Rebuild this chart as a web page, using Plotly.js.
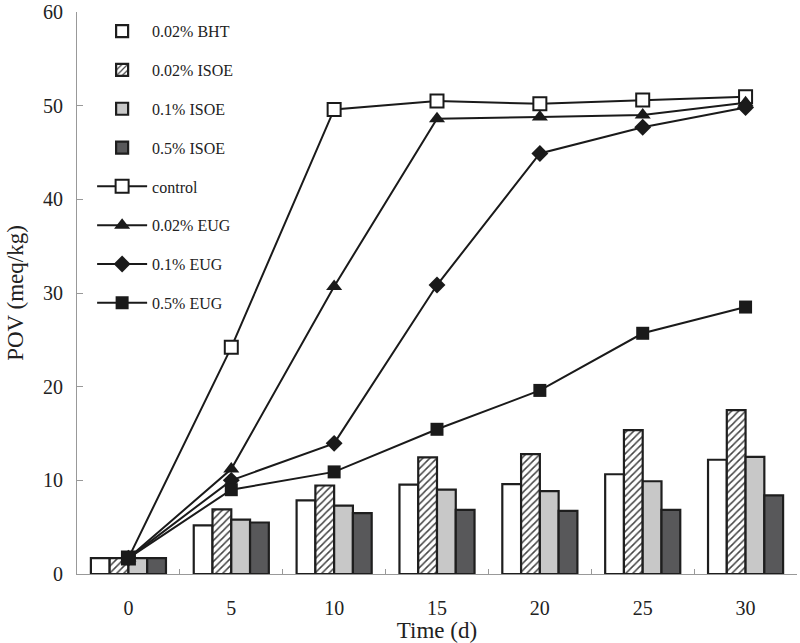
<!DOCTYPE html>
<html>
<head>
<meta charset="utf-8">
<script src="https://cdn.plot.ly/plotly-3.0.1.min.js"></script>
<style>html,body{margin:0;padding:0;background:#fff;}#chart{width:800px;height:643px;}</style>
</head>
<body>
<div id="chart"></div>
<script>
const days = ['0','5','10','15','20','25','30'];

const bht002  = [1.7, 5.2, 7.85, 9.55, 9.6, 10.65, 12.2];
const isoe002 = [1.7, 6.9, 9.45, 12.45, 12.8, 15.35, 17.5];
const isoe01  = [1.7, 5.8, 7.3, 9.0, 8.85, 9.9, 12.5];
const isoe05  = [1.7, 5.5, 6.5, 6.85, 6.75, 6.85, 8.4];

const control = [1.7, 24.2, 49.6, 50.5, 50.2, 50.6, 50.95];
const eug002  = [1.7, 11.2, 30.7, 48.6, 48.8, 49.0, 50.3];
const eug01   = [1.7, 10.0, 13.95, 30.85, 44.9, 47.7, 49.8];
const eug05   = [1.7, 9.0, 10.9, 15.45, 19.6, 25.7, 28.5];

const serif = '"Liberation Serif", "Times New Roman", serif';
const barLine = {color: '#1e1e1e', width: 2.2};

const traces = [
  {type:'bar', name:'0.02% BHT', x: days, y: bht002, marker:{color:'#ffffff', line: barLine}, legendgroup:'a'},
  {type:'bar', name:'0.02% ISOE', x: days, y: isoe002, marker:{color:'#ffffff', line: barLine, pattern:{shape:'/', fgcolor:'#444', bgcolor:'#ffffff', size:5, solidity:0.3}}, legendgroup:'b'},
  {type:'bar', name:'0.1% ISOE', x: days, y: isoe01, marker:{color:'#c8c8c8', line: barLine}, legendgroup:'c'},
  {type:'bar', name:'0.5% ISOE', x: days, y: isoe05, marker:{color:'#58585a', line: barLine}, legendgroup:'d'},
  {type:'scatter', mode:'lines+markers', name:'control', x: days, y: control, line:{color:'#1a1a1a', width:2}, marker:{symbol:'square', size:13, color:'#ffffff', line:{color:'#1a1a1a', width:2}}, legendgroup:'e'},
  {type:'scatter', mode:'lines+markers', name:'0.02% EUG', x: days, y: eug002, line:{color:'#1a1a1a', width:2}, marker:{symbol:'triangle-up', size:14, color:'#1a1a1a'}, legendgroup:'f'},
  {type:'scatter', mode:'lines+markers', name:'0.1% EUG', x: days, y: eug01, line:{color:'#1a1a1a', width:2}, marker:{symbol:'diamond', size:13, color:'#1a1a1a'}, legendgroup:'g'},
  {type:'scatter', mode:'lines+markers', name:'0.5% EUG', x: days, y: eug05, line:{color:'#1a1a1a', width:2}, marker:{symbol:'square', size:13, color:'#1a1a1a'}, legendgroup:'h'}
];

const layout = {
  width: 800, height: 643,
  margin: {l: 77, r: 3, t: 12, b: 69},
  paper_bgcolor: '#ffffff', plot_bgcolor: '#ffffff',
  font: {family: serif, color: '#222', size: 20},
  barmode: 'group', bargap: 0.27, bargroupgap: 0,
  showlegend: true,
  legend: {
    x: 0.021, y: 0.996, xanchor: 'left', yanchor: 'top',
    bgcolor: 'rgba(0,0,0,0)', borderwidth: 0,
    font: {family: serif, size: 16, color: '#222'},
    tracegroupgap: 15, itemwidth: 50, traceorder: 'grouped'
  },
  xaxis: {
    type: 'category',
    title: {text: 'Time (d)', font: {family: serif, size: 23, color: '#222'}, standoff: 2},
    showline: true, linecolor: '#999', linewidth: 1,
    ticks: 'inside', ticklen: 5, tickcolor: '#999', tickson: 'boundaries',
    ticklabelstandoff: 16,
    tickfont: {family: serif, size: 20, color: '#222'},
    showgrid: false, zeroline: false, fixedrange: true, automargin: false
  },
  yaxis: {
    range: [0, 60], dtick: 10,
    title: {text: 'POV (meq/kg)', font: {family: serif, size: 23, color: '#222'}, standoff: 12},
    showline: true, linecolor: '#999', linewidth: 1,
    ticks: 'inside', ticklen: 6, tickcolor: '#999',
    ticklabelstandoff: 9,
    tickfont: {family: serif, size: 20, color: '#222'},
    showgrid: false, zeroline: false, fixedrange: true, automargin: false
  }
};

Plotly.newPlot('chart', traces, layout, {displayModeBar: false, staticPlot: true});
</script>
</body>
</html>
